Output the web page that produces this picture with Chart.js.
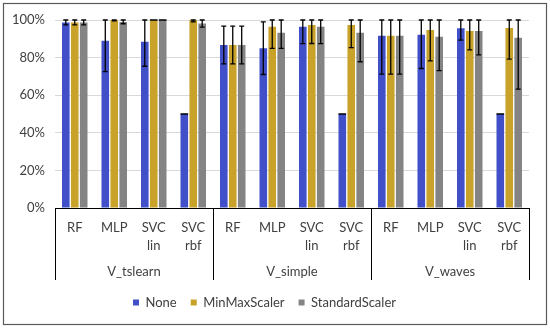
<!DOCTYPE html>
<html>
<head>
<meta charset="utf-8">
<script src="https://cdn.jsdelivr.net/npm/chart.js@4/dist/chart.umd.min.js"></script>
<style>
  html, body { margin: 0; padding: 0; background: #fff; }
  #wrap { width: 550px; height: 329px; position: relative; }
</style>
</head>
<body>
<div id="wrap"><canvas id="c" width="550" height="329"></canvas></div>
<script>
// outer groups and inner models (multi-line labels)
const groups = ['V_tslearn', 'V_simple', 'V_waves'];
const models = [['RF'], ['MLP'], ['SVC', 'lin'], ['SVC', 'rbf']];

// accuracy (%) and error per scaler, 12 bars each (groups x models)
const noneVals = [98.7, 89.0, 88.4, 50.0, 86.7, 85.0, 96.4, 50.0, 91.6, 92.2, 95.6, 50.0];
const noneErr  = [1.3, 16.5, 13.0, 0, 10.0, 14.0, 9.0, 0, 20.4, 18.0, 6.3, 0];
const mmVals   = [98.7, 100, 100, 100, 86.7, 96.4, 97.3, 97.3, 91.6, 94.7, 94.1, 95.7];
const mmErr    = [1.3, 0.5, 0, 1.0, 10.0, 11.5, 9.8, 12.0, 20.4, 16.4, 10.0, 16.5];
const stdVals  = [98.7, 99.0, 100, 98.2, 86.7, 93.2, 96.4, 93.2, 91.6, 91.1, 94.1, 90.6];
const stdErr   = [1.3, 1.0, 0, 2.0, 10.0, 8.3, 9.0, 15.4, 20.4, 18.0, 12.6, 27.4];
const yTicks = [0, 20, 40, 60, 80, 100];

const labels = [];
groups.forEach(() => models.forEach(m => labels.push(m)));

const FONT = 'Lato, "Open Sans", sans-serif';
const TXT = '#404040';

// error bars drawn on top of each bar, upper end kept inside the plot
const errorBars = {
  id: 'errorBars',
  afterDatasetsDraw(chart) {
    const { ctx, scales } = chart;
    const y = scales.y;
    ctx.save();
    ctx.strokeStyle = '#000';
    ctx.lineWidth = 1.3;
    chart.data.datasets.forEach((ds, i) => {
      const meta = chart.getDatasetMeta(i);
      meta.data.forEach((bar, j) => {
        const v = ds.data[j], e = ds.errors[j];
        const top = y.getPixelForValue(Math.min(v + e, 100));
        const bot = y.getPixelForValue(Math.max(v - e, 0));
        const half = e === 0 ? bar.width / 2 : 2.5;
        ctx.beginPath();
        ctx.moveTo(bar.x, top); ctx.lineTo(bar.x, bot);
        ctx.moveTo(bar.x - half, top); ctx.lineTo(bar.x + half, top);
        ctx.moveTo(bar.x - half, bot); ctx.lineTo(bar.x + half, bot);
        ctx.stroke();
      });
    });
    ctx.restore();
  }
};

// two-level category axis box + outer labels + chart border
const groupAxis = {
  id: 'groupAxis',
  afterDraw(chart) {
    const { ctx, chartArea, scales } = chart;
    const x = scales.x;
    const n = models.length;
    const step = x.getPixelForValue(1) - x.getPixelForValue(0);
    const lineBottom = 280;
    ctx.save();
    ctx.strokeStyle = '#000';
    ctx.lineWidth = 1;
    ctx.beginPath();
    ctx.moveTo(chartArea.left, chartArea.bottom + 0.5);
    ctx.lineTo(chartArea.right, chartArea.bottom + 0.5);
    for (let g = 0; g <= groups.length; g++) {
      const px = Math.round(x.getPixelForValue(g * n) - step / 2) + 0.5;
      ctx.moveTo(px, chartArea.bottom);
      ctx.lineTo(px, lineBottom);
    }
    ctx.stroke();
    ctx.fillStyle = TXT;
    ctx.font = '13px ' + FONT;
    ctx.textAlign = 'center';
    ctx.textBaseline = 'middle';
    groups.forEach((g, gi) => {
      const a = x.getPixelForValue(gi * n) - step / 2;
      const b = x.getPixelForValue(gi * n + n - 1) + step / 2;
      ctx.fillText(g, (a + b) / 2, 272);
    });
    ctx.strokeStyle = '#595959';
    ctx.lineWidth = 1.2;
    ctx.strokeRect(3.5, 3.5, 543, 321);
    ctx.restore();
  }
};

new Chart(document.getElementById('c'), {
  type: 'bar',
  data: {
    labels,
    datasets: [
      { label: 'None', data: noneVals, errors: noneErr, backgroundColor: '#4150C8' },
      { label: 'MinMaxScaler', data: mmVals, errors: mmErr, backgroundColor: '#C9A22A' },
      { label: 'StandardScaler', data: stdVals, errors: stdErr, backgroundColor: '#848484' }
    ]
  },
  options: {
    responsive: false,
    animation: false,
    devicePixelRatio: 1,
    categoryPercentage: 0.68,
    barPercentage: 0.85,
    layout: { padding: { top: 20, right: 21, bottom: 10, left: 0 } },
    plugins: {
      tooltip: { enabled: false },
      legend: {
        position: 'bottom',
        labels: {
          boxWidth: 6, boxHeight: 6, padding: 14,
          color: TXT, font: { family: FONT, size: 13 }
        }
      }
    },
    scales: {
      x: {
        grid: { display: false, drawTicks: false },
        border: { display: false },
        ticks: {
          color: TXT, padding: 11, maxRotation: 0, autoSkip: false,
          font: { family: FONT, size: 13, lineHeight: 1.35 }
        },
        afterFit: s => { s.height = 74; }
      },
      y: {
        min: 0, max: 100,
        afterBuildTicks: s => { s.ticks = yTicks.map(v => ({ value: v })); },
        grid: { color: '#d9d9d9', drawTicks: false },
        border: { display: false },
        ticks: {
          color: TXT, padding: 10,
          font: { family: FONT, size: 13 },
          callback: v => v + '%'
        },
        afterFit: s => { s.width = 55; }
      }
    }
  },
  plugins: [errorBars, groupAxis]
});
</script>
</body>
</html>
